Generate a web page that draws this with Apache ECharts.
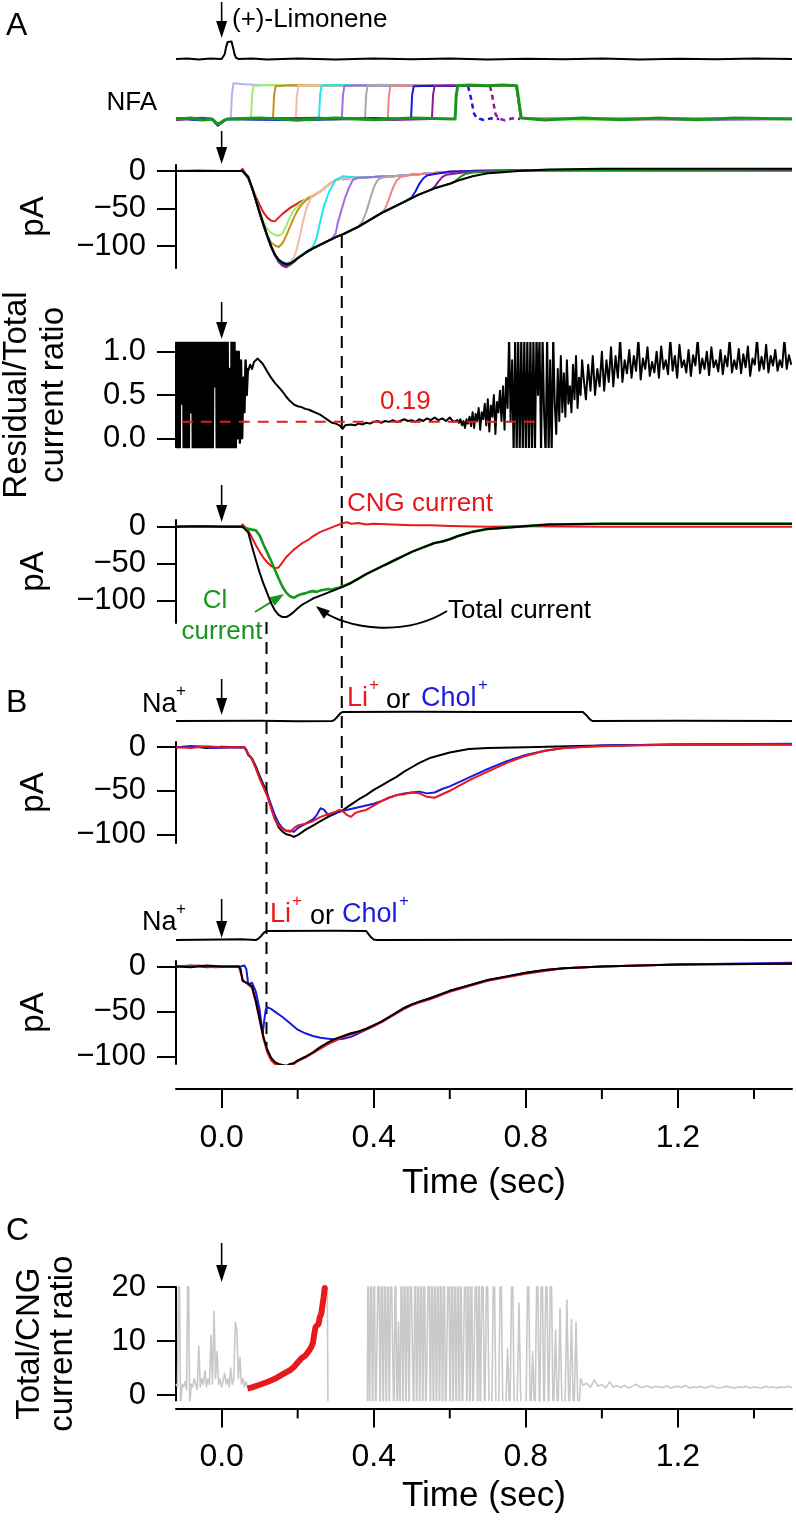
<!DOCTYPE html>
<html><head><meta charset="utf-8">
<script src="https://cdn.jsdelivr.net/npm/echarts@6/dist/echarts.min.js"></script>
<style>html,body{margin:0;padding:0;background:#fff}#c{width:796px;height:1523px}</style>
</head><body><div id="c"></div><script>
// ---------------- DATA (time in s) ----------------
const timeMajor = [0, 0.4, 0.8, 1.2];
const timeMinor = [0.2, 0.6, 1.0, 1.4];
const pATicks = [-100, -50, 0];
const ratioTicks = [0, 0.5, 1.0];
const cTicks = [0, 10, 20];

// A: (+)-limonene stimulus monitor
const limonenePulse = [[-0.12,0],[-0.09,0.03],[-0.06,-0.02],[-0.03,0.02],[0,0],[0.004,0.04],[0.008,0.25],[0.012,0.65],[0.016,0.9],[0.021,1.0],[0.026,0.92],[0.03,0.6],[0.034,0.25],[0.038,0.06],[0.045,0],[0.08,0.03],[0.12,-0.02],[0.2,0.02],[0.3,-0.02],[0.4,0.02],[0.5,-0.01],[0.6,0.02],[0.7,-0.02],[0.8,0.01],[0.9,-0.01],[1.0,0.02],[1.1,-0.02],[1.2,0.01],[1.3,-0.01],[1.4,0.02],[1.5,0]];

// A: NFA application monitors
const nfaLavender = [[-0.12,0],[-0.06,0.04],[-0.025,0],[-0.01,-0.18],[0.005,-0.06],[0.014,0],[0.024,0.02],[0.027,0.7],[0.031,1.05],[0.06,1.02],[0.1,1.0],[0.2,0.99],[0.4,0.98],[0.6,0.98],[0.775,0.97],[0.781,0.5],[0.787,0.03],[0.9,0],[1.2,0.03],[1.5,0]];
const nfaLightgreen = [[-0.12,0.03],[-0.07,-0.03],[-0.025,0],[-0.01,-0.17],[0.005,-0.05],[0.014,0],[0.04,0.03],[0.077,0],[0.08,0.7],[0.084,0.97],[0.12,1.0],[0.2,0.99],[0.4,0.98],[0.6,0.98],[0.775,0.97],[0.781,0.5],[0.787,0.03],[0.95,-0.03],[1.5,0]];
const nfaGoldenrod = [[-0.12,-0.03],[-0.05,0.03],[-0.025,0],[-0.01,-0.18],[0.005,-0.06],[0.014,0],[0.1,-0.03],[0.135,0],[0.138,0.7],[0.142,0.96],[0.18,0.99],[0.3,0.98],[0.6,0.98],[0.775,0.97],[0.781,0.5],[0.787,0.03],[1.0,0.03],[1.5,0]];
const nfaPink = [[-0.12,0],[-0.08,0.03],[-0.025,0],[-0.01,-0.16],[0.005,-0.05],[0.014,0],[0.15,0.03],[0.195,0],[0.198,0.7],[0.202,0.98],[0.25,0.99],[0.4,0.98],[0.6,0.98],[0.775,0.97],[0.781,0.5],[0.787,0.03],[1.1,-0.03],[1.5,0]];
const nfaCyan = [[-0.12,0.02],[-0.04,-0.03],[-0.025,0],[-0.01,-0.18],[0.005,-0.06],[0.014,0],[0.2,-0.03],[0.256,0],[0.259,0.7],[0.263,0.99],[0.3,1.0],[0.5,0.98],[0.775,0.97],[0.781,0.5],[0.787,0.03],[1.2,0.03],[1.5,0]];
const nfaMpurple = [[-0.12,0],[-0.06,-0.03],[-0.025,0],[-0.01,-0.17],[0.005,-0.05],[0.014,0],[0.25,0.03],[0.316,0],[0.319,0.7],[0.323,0.98],[0.36,0.99],[0.5,0.98],[0.775,0.97],[0.781,0.5],[0.787,0.03],[1.3,-0.03],[1.5,0]];
const nfaGray = [[-0.12,-0.02],[-0.05,0.03],[-0.025,0],[-0.01,-0.18],[0.005,-0.06],[0.014,0],[0.3,-0.03],[0.377,0],[0.38,0.7],[0.384,0.99],[0.42,1.01],[0.6,0.98],[0.775,0.97],[0.781,0.5],[0.787,0.03],[1.0,0],[1.5,0.02]];
const nfaSalmon = [[-0.12,0],[-0.07,0.03],[-0.025,0],[-0.01,-0.16],[0.005,-0.05],[0.014,0],[0.35,0.03],[0.437,0],[0.44,0.7],[0.444,0.97],[0.48,0.98],[0.6,0.98],[0.775,0.97],[0.781,0.5],[0.787,0.03],[1.1,0.02],[1.5,0]];
const nfaBlue = [[-0.12,0.03],[-0.06,-0.04],[-0.025,0],[-0.01,-0.2],[0.005,-0.07],[0.014,0],[0.2,-0.04],[0.4,0.03],[0.498,0],[0.501,0.7],[0.505,0.96],[0.55,0.98],[0.6,0.97],[0.648,0.97]];
const nfaBlueOff = [[0.648,0.97],[0.656,0.6],[0.664,0.15],[0.672,0.02],[0.69,-0.03],[0.71,0.02],[0.73,0]];
const nfaPurple = [[-0.12,-0.03],[-0.05,0.04],[-0.025,0],[-0.01,-0.18],[0.005,-0.06],[0.014,0],[0.25,0.04],[0.45,-0.03],[0.553,0],[0.556,0.7],[0.56,0.97],[0.6,0.99],[0.65,0.97],[0.706,0.97]];
const nfaPurpleOff = [[0.706,0.97],[0.713,0.6],[0.72,0.15],[0.727,0.02],[0.745,-0.04],[0.765,0.02],[0.785,0]];
const nfaGreen = [[-0.12,0],[-0.08,0.03],[-0.05,-0.03],[-0.025,0],[-0.01,-0.16],[0.005,-0.05],[0.014,0],[0.1,0.03],[0.2,-0.03],[0.3,0.03],[0.4,-0.02],[0.5,0.03],[0.614,0],[0.617,0.7],[0.621,0.98],[0.65,1.0],[0.7,0.98],[0.74,1.0],[0.776,0.98],[0.782,0.5],[0.788,0.03],[0.85,-0.03],[0.95,0.03],[1.05,-0.02],[1.15,0.03],[1.25,-0.02],[1.35,0.03],[1.5,0]];

// A: currents (pA) with NFA applied at different delays
const curRed = [[-0.12,0],[-0.06,0.5],[0,0],[0.05,0],[0.055,3],[0.06,-1],[0.07,-10],[0.08,-22],[0.09,-34],[0.1,-45],[0.11,-55],[0.12,-62],[0.13,-66],[0.135,-68],[0.14,-67],[0.15,-62],[0.16,-57],[0.17,-53],[0.18,-49],[0.19,-46],[0.2,-43],[0.21,-40],[0.22,-38],[0.23,-35],[0.24,-33],[0.25,-30],[0.26,-27],[0.27,-23],[0.28,-19],[0.29,-15],[0.3,-12],[0.31,-10],[0.32,-11],[0.34,-9],[0.36,-9],[0.38,-8],[0.4,-8],[0.42,-7],[0.45,-7],[0.48,-6],[0.5,-5],[0.55,-3],[0.6,-1],[0.65,0],[0.8,1],[1.0,1],[1.5,1]];
const curLightgreen = [[-0.12,0],[0.055,0],[0.06,-1],[0.07,-9],[0.08,-23],[0.09,-38],[0.1,-54],[0.11,-67],[0.12,-77],[0.13,-82],[0.14,-85],[0.15,-86],[0.16,-83],[0.17,-73],[0.18,-61],[0.19,-52],[0.2,-46],[0.21,-42],[0.22,-38],[0.24,-33],[0.26,-27],[0.28,-19],[0.3,-12],[0.32,-10],[0.36,-9],[0.4,-8],[0.45,-7],[0.5,-5],[0.55,-3],[0.6,-1],[0.65,0],[0.8,1],[1.5,1]];
const curGoldenrod = [[-0.12,0],[0.055,0],[0.06,-1],[0.07,-9],[0.08,-23],[0.09,-39],[0.1,-56],[0.11,-71],[0.12,-85],[0.13,-95],[0.14,-99],[0.15,-101],[0.16,-96],[0.17,-86],[0.18,-74],[0.19,-62],[0.2,-52],[0.21,-45],[0.22,-40],[0.23,-36],[0.24,-33],[0.26,-27],[0.28,-19],[0.3,-12],[0.32,-10],[0.36,-9],[0.4,-8],[0.45,-7],[0.5,-5],[0.55,-3],[0.6,-1],[0.65,0],[0.8,1],[1.5,1]];
const curPink = [[-0.12,0],[0.055,0],[0.06,-1],[0.07,-8],[0.08,-22],[0.09,-38],[0.1,-55],[0.11,-71],[0.12,-86],[0.13,-100],[0.14,-111],[0.15,-118],[0.16,-121],[0.17,-122],[0.18,-121],[0.19,-115],[0.197,-105],[0.205,-88],[0.215,-65],[0.225,-47],[0.237,-33],[0.25,-30],[0.26,-27],[0.28,-19],[0.3,-12],[0.32,-10],[0.36,-9],[0.4,-8],[0.45,-7],[0.5,-5],[0.55,-3],[0.6,-1],[0.65,0],[0.8,1],[1.5,1]];
const curCyan = [[-0.12,0],[0.055,0],[0.06,-1],[0.07,-8],[0.08,-22],[0.09,-38],[0.1,-55],[0.11,-71],[0.12,-86],[0.13,-100],[0.14,-111],[0.15,-118],[0.16,-122],[0.17,-123],[0.18,-122],[0.19,-119],[0.2,-115],[0.22,-108],[0.24,-101],[0.25,-89],[0.258,-70],[0.27,-45],[0.284,-26],[0.3,-12],[0.318,-7],[0.34,-8],[0.36,-9],[0.4,-8],[0.45,-7],[0.5,-5],[0.55,-3],[0.6,-1],[0.65,0],[0.8,1],[1.5,1]];
const curMpurple = [[-0.12,0],[0.055,0],[0.06,-1],[0.07,-8],[0.08,-22],[0.09,-38],[0.1,-55],[0.11,-71],[0.12,-86],[0.13,-100],[0.14,-111],[0.15,-119],[0.16,-124],[0.17,-126],[0.18,-124],[0.19,-121],[0.2,-116],[0.22,-109],[0.24,-103],[0.26,-98],[0.28,-93],[0.29,-90],[0.3,-83],[0.305,-70],[0.315,-52],[0.325,-35],[0.335,-22],[0.345,-12],[0.36,-9],[0.4,-8],[0.45,-7],[0.5,-5],[0.55,-3],[0.6,-1],[0.65,0],[0.8,1],[1.5,1]];
const curGray = [[-0.12,0],[0.055,0],[0.06,-1],[0.07,-8],[0.08,-22],[0.09,-38],[0.1,-55],[0.11,-71],[0.12,-86],[0.13,-100],[0.14,-111],[0.15,-118],[0.16,-122],[0.17,-124],[0.18,-123],[0.19,-120],[0.2,-116],[0.22,-109],[0.24,-103],[0.26,-98],[0.28,-93],[0.3,-88],[0.32,-84],[0.34,-79],[0.36,-74],[0.37,-67],[0.38,-55],[0.39,-38],[0.4,-22],[0.41,-12],[0.42,-9],[0.45,-7],[0.5,-5],[0.55,-3],[0.6,-1],[0.65,0],[0.8,1],[1.5,1]];
const curSalmon = [[-0.12,0],[0.055,0],[0.06,-1],[0.07,-8],[0.08,-22],[0.09,-38],[0.1,-55],[0.11,-71],[0.12,-86],[0.13,-100],[0.14,-111],[0.15,-118],[0.16,-122],[0.17,-124],[0.18,-123],[0.19,-120],[0.2,-116],[0.22,-109],[0.24,-103],[0.26,-98],[0.28,-93],[0.3,-88],[0.32,-84],[0.34,-79],[0.36,-74],[0.38,-68],[0.4,-62],[0.42,-56],[0.43,-50],[0.44,-37],[0.45,-23],[0.46,-13],[0.47,-8],[0.5,-5],[0.55,-3],[0.6,-1],[0.65,0],[0.8,1],[1.5,1]];
const curBlue = [[-0.12,0],[0.055,0],[0.06,-2],[0.07,-9],[0.08,-23],[0.09,-39],[0.1,-56],[0.11,-72],[0.12,-87],[0.13,-101],[0.14,-112],[0.15,-120],[0.16,-125],[0.17,-126],[0.18,-124],[0.19,-120],[0.2,-116],[0.22,-109],[0.24,-103],[0.26,-98],[0.28,-93],[0.3,-88],[0.32,-84],[0.34,-79],[0.36,-74],[0.38,-68],[0.4,-62],[0.42,-56],[0.44,-51],[0.46,-46],[0.48,-41],[0.49,-38],[0.5,-35],[0.51,-27],[0.52,-17],[0.53,-10],[0.54,-6],[0.56,-4],[0.6,-1],[0.65,0],[0.8,1],[1.5,1]];
const curPurple = [[-0.12,0],[0.055,0],[0.06,-2],[0.07,-9],[0.08,-23],[0.09,-39],[0.1,-56],[0.11,-72],[0.12,-87],[0.13,-101],[0.14,-112],[0.15,-121],[0.16,-126],[0.17,-128],[0.18,-125],[0.19,-121],[0.2,-116],[0.22,-109],[0.24,-103],[0.26,-98],[0.28,-93],[0.3,-88],[0.32,-84],[0.34,-79],[0.36,-74],[0.38,-68],[0.4,-62],[0.42,-56],[0.44,-51],[0.46,-46],[0.48,-41],[0.5,-36],[0.52,-31],[0.54,-27],[0.55,-25],[0.56,-21],[0.57,-14],[0.58,-8],[0.59,-5],[0.62,-3],[0.65,-1],[0.8,1],[1.5,1]];
const curGreen = [[-0.12,0],[0.055,0],[0.06,-1],[0.07,-8],[0.08,-22],[0.09,-38],[0.1,-55],[0.11,-71],[0.12,-86],[0.13,-100],[0.14,-111],[0.15,-118],[0.16,-122],[0.17,-124],[0.18,-123],[0.19,-120],[0.2,-116],[0.22,-109],[0.24,-103],[0.26,-98],[0.28,-93],[0.3,-88],[0.32,-84],[0.34,-79],[0.36,-74],[0.38,-68],[0.4,-62],[0.42,-56],[0.44,-51],[0.46,-46],[0.48,-41],[0.5,-36],[0.52,-31],[0.54,-27],[0.56,-23],[0.58,-20],[0.6,-17],[0.61,-15],[0.62,-11],[0.63,-7],[0.64,-4],[0.66,-2],[0.7,-1],[0.8,1],[1.5,2]];
const curTotal = [[-0.12,0],[-0.06,0.5],[0,0],[0.055,0],[0.06,-1],[0.07,-8],[0.08,-22],[0.09,-38],[0.1,-55],[0.11,-71],[0.12,-86],[0.13,-100],[0.14,-111],[0.15,-118],[0.16,-122],[0.17,-124],[0.18,-123],[0.19,-120],[0.2,-116],[0.22,-109],[0.24,-103],[0.26,-98],[0.28,-93],[0.3,-88],[0.32,-84],[0.34,-79],[0.36,-74],[0.38,-68],[0.4,-62],[0.42,-56],[0.44,-51],[0.46,-46],[0.48,-41],[0.5,-36],[0.52,-31],[0.54,-27],[0.56,-23],[0.58,-20],[0.6,-17],[0.62,-13],[0.64,-10],[0.66,-7],[0.68,-5],[0.7,-3],[0.73,-2],[0.78,0],[0.86,2],[1.0,3],[1.2,3],[1.5,3]];

// A: residual/total current ratio (sampled pieces)
const ratioNoiseStart = -0.12, ratioNoiseStep = 0.003;
const ratioNoiseEarly = [2,-1,2,-1,2,0.4,2,-1,2,-1,2,-1,2,0.3,2,-1,2,-1,2,-1,2,-1,2,-1,0.5,2,-1,2,-1,2,-1,2,-1,2,0.6,2,-1,2,-1,2,-1,2,-1,2,-1,2,-1,0.8,-1,2,-1,2,-1,1.0,0.0,1.0,-0.05,0.9,0.0,0.7,0.3,0.9,0.5,0.8];
const ratioSmooth = [[0.07,0.78],[0.075,0.85],[0.08,0.8],[0.085,0.88],[0.09,0.86],[0.095,0.92],[0.1,0.9],[0.108,0.86],[0.12,0.77],[0.13,0.7],[0.14,0.64],[0.15,0.59],[0.16,0.54],[0.17,0.48],[0.18,0.43],[0.19,0.39],[0.2,0.37],[0.21,0.36],[0.22,0.34],[0.23,0.33],[0.24,0.31],[0.25,0.29],[0.26,0.27],[0.27,0.24],[0.28,0.21],[0.29,0.18],[0.3,0.17],[0.31,0.15],[0.318,0.11],[0.325,0.15],[0.33,0.14],[0.34,0.16],[0.35,0.15],[0.36,0.17],[0.37,0.16],[0.38,0.18],[0.39,0.17],[0.4,0.19],[0.41,0.2],[0.42,0.18],[0.43,0.2],[0.44,0.19],[0.45,0.21],[0.46,0.19],[0.47,0.2],[0.48,0.22],[0.49,0.2],[0.5,0.21],[0.51,0.19],[0.52,0.22],[0.53,0.2],[0.54,0.23],[0.55,0.21],[0.56,0.24],[0.57,0.21],[0.58,0.23],[0.59,0.2],[0.6,0.24],[0.61,0.19]];
const ratioNoiseLateStart = 0.62, ratioNoiseLateStep = 0.004;
const ratioNoiseLate = [0.21,0.18,0.22,0.15,0.2,0.12,0.22,0.17,0.25,0.14, 0.3,0.12,0.28,0.2,0.35,0.1,0.3,0.22,0.4,0.15, 0.45,0.08,0.38,0.25,0.5,0.05,0.42,0.3,0.55,0.2, 0.6,0.1,0.7,0.35,1.2,0.2,0.9,-0.2,1.2,-0.2, 1.2,-0.2,1.2,-0.2,1.2,-0.2,1.2,-0.2,1.2,-0.2, 1.2,-0.2,1.2,0.5,1.2,-0.2,1.2,0.3,-0.2,1.2, -0.2,0.9,-0.2,1.2,0.4,0.05,0.8,0.2,0.95,0.3, 0.75,0.25,0.9,0.4,0.6,0.3,0.85,0.45,0.95,0.35, 0.7,0.5,0.9];
const ratioTailStart = 0.952, ratioTailStep = 0.006;
const ratioTail = [0.7,0.45,0.85,0.55,0.95,0.5,0.8,0.6,1.0,0.55, 0.9,0.65,1.05,0.6,0.95,0.7,1.15,0.65,0.9,0.75, 1.02,0.7,0.95,0.78,1.15,0.68,0.92,0.8,1.05,0.72, 0.88,0.76,1.0,0.7,1.06,0.8,0.9,0.74,1.15,0.78, 0.95,0.7,1.08,0.82,0.9,0.76,1.02,0.72,0.96,0.84, 1.15,0.75,0.92,0.8,1.0,0.73,1.05,0.82,0.9,0.77, 1.02,0.74,0.95,0.83,1.15,0.76,0.9,0.8,1.03,0.75, 0.97,0.82,1.06,0.72,0.92,0.85,1.15,0.78,0.94,0.8, 1.08,0.76,0.95,0.84,1.02,0.78,0.9,0.82,1.15,0.8, 0.96,0.85];
const ratioLevel = [[-0.105,0.19],[0.83,0.19]];

// A: CNG, Cl and total currents (pA)
const cngCurrent = [[-0.12,0],[-0.06,0.5],[0,0],[0.05,0],[0.055,3],[0.06,1],[0.07,-5],[0.08,-15],[0.09,-25],[0.1,-34],[0.11,-42],[0.12,-48],[0.13,-53],[0.14,-56],[0.145,-57],[0.15,-55],[0.16,-48],[0.17,-41],[0.18,-36],[0.19,-31],[0.2,-27],[0.21,-23],[0.22,-20],[0.23,-17],[0.24,-13],[0.25,-10],[0.26,-7],[0.27,-5],[0.28,-3],[0.29,-1],[0.3,1],[0.31,3],[0.32,5],[0.33,6],[0.34,4],[0.36,5],[0.38,3],[0.4,4],[0.45,3],[0.5,2],[0.55,2],[0.6,1],[0.7,0],[0.8,0.5],[1.0,0],[1.5,0]];
const clCurrent = [[-0.12,0],[-0.06,0.5],[0,0],[0.05,0],[0.06,-1],[0.07,-3],[0.08,-4],[0.09,-5],[0.1,-12],[0.11,-24],[0.12,-35],[0.13,-46],[0.14,-58],[0.15,-70],[0.16,-81],[0.17,-89],[0.18,-94],[0.19,-96],[0.2,-93],[0.21,-91],[0.22,-90],[0.23,-88],[0.24,-87],[0.25,-88],[0.26,-86],[0.27,-85],[0.28,-84],[0.29,-85],[0.3,-83],[0.31,-82],[0.32,-80],[0.33,-78],[0.34,-76],[0.36,-70],[0.38,-64],[0.4,-59],[0.42,-54],[0.44,-49],[0.46,-44],[0.48,-39],[0.5,-34],[0.52,-30],[0.54,-26],[0.56,-22],[0.58,-20],[0.6,-17],[0.62,-13],[0.64,-10],[0.66,-7],[0.68,-5],[0.7,-3],[0.73,-2],[0.78,0],[0.86,3],[1.0,4],[1.2,4],[1.5,4]];
const totalCurrent = [[-0.12,0],[-0.06,0.5],[0,0],[0.055,0],[0.06,-1],[0.07,-8],[0.08,-27],[0.09,-45],[0.1,-62],[0.11,-77],[0.12,-90],[0.13,-103],[0.14,-113],[0.15,-119],[0.16,-122],[0.17,-122],[0.18,-119],[0.19,-115],[0.2,-110],[0.21,-106],[0.22,-103],[0.24,-97],[0.26,-93],[0.28,-89],[0.3,-85],[0.32,-81],[0.34,-76],[0.36,-70],[0.38,-64],[0.4,-59],[0.42,-54],[0.44,-49],[0.46,-44],[0.48,-39],[0.5,-34],[0.52,-30],[0.54,-26],[0.56,-22],[0.58,-20],[0.6,-17],[0.62,-13],[0.64,-10],[0.66,-7],[0.68,-5],[0.7,-3],[0.73,-2],[0.78,0],[0.86,3],[1.0,4],[1.2,4],[1.5,4]];

// B: solution exchange monitors
const naStimLate = [[-0.12,0],[0.1,0.03],[0.2,-0.02],[0.29,0],[0.296,0.1],[0.305,0.5],[0.312,0.85],[0.318,1],[0.5,1.02],[0.7,1],[0.95,1],[0.96,0.6],[0.968,0.2],[0.975,0],[1.2,0.02],[1.5,0]];
const naStimEarly = [[-0.12,0],[0.0,0.05],[0.05,0.08],[0.09,0],[0.097,0.15],[0.105,0.5],[0.112,0.85],[0.118,1],[0.3,1.02],[0.38,1],[0.385,0.8],[0.393,0.3],[0.4,0.05],[0.408,0],[0.8,0.02],[1.5,0]];

// B (top): currents, ion substitution from 0.3 s
const bLateNa = [[-0.12,0],[-0.08,1],[-0.04,-1],[0,0.5],[0.04,0],[0.06,0],[0.065,-4],[0.07,-9],[0.08,-13],[0.09,-22],[0.1,-33],[0.11,-43],[0.12,-53],[0.13,-68],[0.14,-82],[0.15,-92],[0.16,-97],[0.17,-100],[0.18,-101],[0.19,-103],[0.195,-104],[0.2,-101],[0.21,-98],[0.22,-95],[0.24,-90],[0.26,-85],[0.28,-80],[0.3,-76],[0.32,-72],[0.34,-66],[0.36,-60],[0.38,-55],[0.4,-49],[0.42,-44],[0.44,-39],[0.46,-34],[0.48,-28],[0.5,-23],[0.52,-18],[0.55,-12],[0.6,-6],[0.65,-2],[0.7,-1],[0.8,0],[1.0,2],[1.2,3],[1.5,3]];
const bLateLi = [[-0.12,0],[-0.08,-1],[-0.04,1],[0,0],[0.06,0],[0.065,-3],[0.07,-8],[0.08,-14],[0.09,-24],[0.1,-36],[0.11,-46],[0.12,-56],[0.13,-70],[0.14,-83],[0.15,-90],[0.16,-94],[0.17,-96],[0.18,-97],[0.19,-93],[0.2,-90],[0.22,-88],[0.24,-85],[0.26,-80],[0.28,-77],[0.3,-74],[0.31,-72],[0.32,-74],[0.33,-78],[0.34,-80],[0.35,-76],[0.36,-74],[0.38,-72],[0.4,-67],[0.42,-62],[0.44,-58],[0.46,-55],[0.48,-54],[0.5,-52],[0.52,-53],[0.54,-57],[0.56,-58],[0.58,-54],[0.6,-50],[0.63,-43],[0.66,-36],[0.7,-28],[0.75,-18],[0.8,-10],[0.85,-4],[0.9,-1],[1.0,1],[1.2,3],[1.5,3]];
const bLateChol = [[-0.12,0],[-0.06,1],[-0.02,-1],[0.06,0],[0.065,-3],[0.07,-8],[0.08,-14],[0.09,-24],[0.1,-35],[0.11,-45],[0.12,-55],[0.13,-66],[0.14,-78],[0.15,-87],[0.16,-93],[0.17,-96],[0.18,-96],[0.19,-97],[0.2,-93],[0.22,-88],[0.24,-83],[0.25,-78],[0.26,-70],[0.27,-72],[0.28,-78],[0.3,-75],[0.32,-73],[0.34,-71],[0.36,-69],[0.38,-67],[0.4,-65],[0.42,-62],[0.44,-58],[0.46,-55],[0.48,-53],[0.5,-52],[0.52,-51],[0.54,-53],[0.56,-52],[0.58,-48],[0.6,-45],[0.63,-39],[0.66,-33],[0.7,-25],[0.75,-16],[0.8,-9],[0.85,-4],[0.9,-1],[1.0,2],[1.2,3],[1.5,4]];

// B (bottom): currents, ion substitution from 0.1 s
const bEarlyNa = [[-0.12,0],[-0.08,-1],[-0.04,1],[0,0],[0.045,0],[0.05,-3],[0.055,-16],[0.06,-17],[0.07,-19],[0.08,-22],[0.09,-38],[0.1,-58],[0.11,-78],[0.12,-92],[0.13,-101],[0.14,-106],[0.15,-108],[0.16,-109],[0.17,-110],[0.18,-108],[0.19,-107],[0.2,-104],[0.22,-100],[0.24,-95],[0.26,-89],[0.28,-84],[0.3,-80],[0.32,-77],[0.34,-74],[0.36,-72],[0.38,-69],[0.4,-65],[0.42,-61],[0.44,-56],[0.46,-51],[0.48,-46],[0.5,-42],[0.52,-39],[0.55,-35],[0.6,-27],[0.65,-21],[0.7,-15],[0.75,-11],[0.8,-7],[0.85,-4],[0.9,-2],[1.0,0],[1.2,2],[1.5,3]];
const bEarlyLi = [[-0.12,0],[-0.06,1],[-0.02,-1],[0.045,0],[0.05,-2],[0.055,-14],[0.06,-17],[0.07,-20],[0.08,-24],[0.09,-40],[0.1,-60],[0.11,-80],[0.12,-95],[0.13,-104],[0.14,-108],[0.15,-110],[0.16,-111],[0.17,-112],[0.18,-110],[0.19,-108],[0.2,-105],[0.22,-101],[0.24,-96],[0.26,-91],[0.28,-86],[0.3,-82],[0.32,-78],[0.34,-75],[0.36,-73],[0.38,-70],[0.4,-66],[0.42,-62],[0.44,-57],[0.46,-52],[0.48,-47],[0.5,-43],[0.52,-40],[0.55,-36],[0.6,-28],[0.65,-22],[0.7,-16],[0.75,-12],[0.8,-8],[0.85,-5],[0.9,-2],[1.0,0],[1.2,2],[1.5,3]];
const bEarlyChol = [[-0.12,0],[-0.08,1],[-0.04,-1],[0,0],[0.05,0],[0.055,2],[0.06,1],[0.065,-3],[0.07,-20],[0.075,-22],[0.08,-18],[0.085,-20],[0.09,-28],[0.1,-48],[0.105,-65],[0.108,-74],[0.112,-60],[0.116,-48],[0.12,-45],[0.13,-47],[0.14,-50],[0.16,-56],[0.18,-63],[0.2,-70],[0.22,-74],[0.24,-77],[0.26,-79],[0.28,-80],[0.3,-81],[0.32,-80],[0.34,-78],[0.36,-74],[0.38,-70],[0.4,-66],[0.42,-61],[0.44,-56],[0.46,-51],[0.48,-46],[0.5,-42],[0.52,-39],[0.55,-35],[0.6,-27],[0.65,-21],[0.7,-15],[0.75,-11],[0.8,-7],[0.85,-4],[0.9,-2],[1.0,0],[1.2,2],[1.5,4]];

// C: total/CNG current ratio
const cEarlyStart = -0.12, cEarlyStep = 0.004;
const cEarly = [2,1.5,30,-3,2,1.5,2.5,1,30,-2,2,1.5,3,2,1,9,1.5,3,2,4.5,1.5,3,2,11,2,15.5,3,8,2,3,1.5,2.5,4,2,3,1.5,5,2,3,13.5,12,3,7,2,3,1.5,2.5,1.5,1.2];
const cMid = [[0.075,null],[0.274,19.5],[0.277,30],[0.28,-6],[0.383,-6]];
const cDenseStart = 0.385, cDenseStep = 0.004;
const cDense = [30,-6,30,-6,30,-6,-6,30,-6,30,-6,30,-6,30,-6,30, 30,-6,30,-6,13.5,-6,30,-6,30,-6,30,-6,30,30,-6,30, -6,30,-6,30,-6,30,-6,-6,30,-6,30,-6,30,-6,30,-6, 30,-6,30,-6,-6,30,-6,30,-6,30,-6,30,-6,30,-6,-6, 30,-6,30,-6,30,-6,-6,30,-6,30];
const cSparseStart = 0.68, cSparseStep = 0.006;
const cSparse = [-6,30,-6,30,-6,-6,30,-6,-6,30, -6,-6,8.7,-6,30,-6,-6,17,-6,-6, -6,30,-6,8,-6,30,-6,30,-6,30, -6,30,-6,12,-6,16,-6,-6,17.6,-6, 14,-6,13.5,-6,3,1.8];
const cTailStart = 0.96, cTailStep = 0.01;
const cTail = [2.2,1.4,2.8,1.6,1.9,1.3,2.4,1.5,1.7,1.4, 1.8,1.3,1.6,2.0,1.4,1.5,1.7,1.3,1.6,1.5, 1.4,1.7,1.3,1.5,1.6,1.4,1.8,1.3,1.5,1.4, 1.6,1.3,1.5,1.7,1.4,1.3,1.5,1.6,1.4,1.3, 1.5,1.4,1.6,1.3,1.5,1.4,1.3,1.6,1.4,1.5, 1.3,1.5,1.4,1.6,1.4];
const cPhase = [[0.068,1.2],[0.08,1.4],[0.1,1.9],[0.12,2.4],[0.14,3.0],[0.16,3.8],[0.18,4.6],[0.19,5.2],[0.2,6.0],[0.21,6.8],[0.22,7.3],[0.225,7.6],[0.23,8.2],[0.235,8.8],[0.24,9.6],[0.243,11],[0.247,12.6],[0.25,12.3],[0.255,13.2],[0.258,14.4],[0.262,15],[0.265,16.5],[0.268,18],[0.271,19.8],[0.272,19.5]];

// ---------------- CHART ----------------
const FONT = '"Liberation Sans", Arial, Helvetica, sans-serif';
const X_MIN = -0.12, X_MAX = 1.5;
const sampled = (t0, dt, vals) => vals.map((v, i) => [+(t0 + i * dt).toFixed(4), v]);
const minusFmt = v => (v < 0 ? '\u2212' + Math.abs(v) : String(v));

const grids = [
  {top: 30.5, height: 38},
  {top: 68, height: 68},
  {top: 165, height: 103},
  {top: 343, height: 104},
  {top: 520, height: 103},
  {top: 703, height: 27},
  {top: 742, height: 101},
  {top: 922, height: 27},
  {top: 961, height: 103},
  {top: 1287, height: 113.4}
].map(g => Object.assign({left: 176, right: 4, containLabel: false, outerBoundsMode: 'none'}, g));

const yRanges = [[-0.5,1.5],[-0.5,1.5],[-129,8],[-0.1,1.1],[-130,9],[-1,2],[-110,6],[-1,2],[-108,6],[-1,20]];
const timeAxisOffsets = {8: 25, 9: 8};
const timeNameGaps = {8: 77, 9: 70};

const xAxes = grids.map((g, i) => ({type: 'value', gridIndex: i, min: X_MIN, max: X_MAX, show: false, splitLine: {show: false}}));
function timeAxis(i) {
  return {type: 'value', gridIndex: i, min: X_MIN, max: X_MAX, position: 'bottom', offset: timeAxisOffsets[i],
    axisLine: {show: true, onZero: false, lineStyle: {color: '#000', width: 2}},
    axisTick: {show: true, customValues: timeMajor, length: 19, lineStyle: {color: '#000', width: 2}},
    axisLabel: {show: true, customValues: timeMajor, formatter: v => v.toFixed(1), fontSize: 32, color: '#000', fontFamily: FONT, margin: 33},
    splitLine: {show: false},
    name: 'Time (sec)', nameLocation: 'middle', nameGap: timeNameGaps[i],
    nameTextStyle: {fontSize: 35, color: '#000', fontFamily: FONT}};
}
xAxes[8] = timeAxis(8);
xAxes[9] = timeAxis(9);

const yAxes = yRanges.map((r, i) => ({type: 'value', gridIndex: i, min: r[0], max: r[1], show: false, splitLine: {show: false}}));
function valueAxis(i, ticks, fmt, name, gap, lh) {
  const r = yRanges[i];
  return {type: 'value', gridIndex: i, min: r[0], max: r[1], position: 'left',
    axisLine: {show: true, onZero: false, lineStyle: {color: '#000', width: 2}},
    axisTick: {show: true, customValues: ticks, length: 19, lineStyle: {color: '#000', width: 2}},
    axisLabel: {show: true, customValues: ticks, formatter: fmt, fontSize: 31, color: '#000', fontFamily: FONT, margin: 30},
    splitLine: {show: false},
    name: name, nameLocation: 'middle', nameRotate: 90, nameGap: gap,
    nameTextStyle: {fontSize: 33, color: '#000', fontFamily: FONT, lineHeight: lh, align: 'center'}};
}
yAxes[2] = valueAxis(2, pATicks, minusFmt, 'pA', 124, 36);
yAxes[3] = valueAxis(3, ratioTicks, v => v.toFixed(1), 'Residual/Total\ncurrent ratio', 104, 37);
yAxes[4] = valueAxis(4, pATicks, minusFmt, 'pA', 124, 36);
yAxes[6] = valueAxis(6, pATicks, minusFmt, 'pA', 124, 36);
yAxes[8] = valueAxis(8, pATicks, minusFmt, 'pA', 124, 36);
yAxes[9] = valueAxis(9, cTicks, v => String(v), 'Total/CNG\ncurrent ratio', 97, 33);

function line(grid, data, color, width, extra) {
  return Object.assign({type: 'line', xAxisIndex: grid, yAxisIndex: grid, data: data, showSymbol: false, symbol: 'none',
    animation: false, silent: true, clip: true, connectNulls: false,
    lineStyle: {color: color, width: width, join: 'round'}}, extra || {});
}

const ratioEarlyData = sampled(ratioNoiseStart, ratioNoiseStep, ratioNoiseEarly).concat([ratioSmooth[0]]);
const ratioData = [].concat(ratioSmooth, sampled(ratioNoiseLateStart, ratioNoiseLateStep, ratioNoiseLate),
  sampled(ratioTailStart, ratioTailStep, ratioTail));
const cGrayData = [].concat(sampled(cEarlyStart, cEarlyStep, cEarly), cMid, sampled(cDenseStart, cDenseStep, cDense),
  sampled(cSparseStart, cSparseStep, cSparse), sampled(cTailStart, cTailStep, cTail));

const C = {red: '#e8191c', blue: '#1a1ae0', green: '#16961c', black: '#000'};
const series = [
  line(0, limonenePulse, '#000', 2),
  line(1, nfaLavender, '#b4b4f0', 2), line(1, nfaLightgreen, '#9cee6c', 2), line(1, nfaGoldenrod, '#c8901c', 2),
  line(1, nfaPink, '#f6b8b0', 2), line(1, nfaCyan, '#1ee6f0', 2), line(1, nfaMpurple, '#a070e0', 2),
  line(1, nfaGray, '#a8a8a8', 2), line(1, nfaSalmon, '#f08484', 2), line(1, nfaBlue, '#1818e0', 2),
  line(1, nfaBlueOff, '#1818e0', 2.5, {lineStyle: {color: '#1818e0', width: 2.5, type: [5, 4]}}),
  line(1, nfaPurple, '#901890', 2),
  line(1, nfaPurpleOff, '#901890', 2.5, {lineStyle: {color: '#901890', width: 2.5, type: [5, 4]}}),
  line(1, nfaGreen, '#16961c', 3),
  line(2, curRed, C.red, 2), line(2, curLightgreen, '#9cee6c', 2), line(2, curGoldenrod, '#c8901c', 2),
  line(2, curPink, '#f6b8b0', 2), line(2, curCyan, '#1ee6f0', 2), line(2, curMpurple, '#a070e0', 2),
  line(2, curGray, '#a8a8a8', 2), line(2, curSalmon, '#f08484', 2), line(2, curBlue, '#1818e0', 2),
  line(2, curPurple, '#901890', 2), line(2, curGreen, '#16961c', 2), line(2, curTotal, '#000', 2),
  line(3, ratioEarlyData, '#000', 2.4),
  line(3, ratioData, '#000', 2),
  line(3, ratioLevel, C.red, 2, {lineStyle: {color: C.red, width: 2, type: [11, 8]}}),
  line(4, cngCurrent, C.red, 2), line(4, clCurrent, C.green, 2.6), line(4, totalCurrent, '#000', 2),
  line(5, naStimLate, '#000', 2),
  line(6, bLateNa, '#000', 2), line(6, bLateChol, C.blue, 2), line(6, bLateLi, C.red, 2),
  line(7, naStimEarly, '#000', 2),
  line(8, bEarlyChol, C.blue, 2), line(8, bEarlyLi, C.red, 2), line(8, bEarlyNa, '#000', 2),
  line(9, cGrayData, '#c8c8c8', 1.6),
  line(9, cPhase, C.red, 6)
];

const chart = echarts.init(document.getElementById('c'), null, {renderer: 'canvas'});
chart.setOption({
  animation: false, backgroundColor: '#fff', textStyle: {fontFamily: FONT},
  grid: grids, xAxis: xAxes, yAxis: yAxes, series: series
});

// ---------------- ANNOTATIONS ----------------
const xAt = t => chart.convertToPixel({xAxisIndex: 0}, t);
const x0 = xAt(0), xEarly = xAt(0.118), xLate = xAt(0.316);
const g = [];
function txt(x, y, s, opt) {
  g.push({type: 'text', x: x, y: y, silent: true, style: Object.assign({text: s, fill: '#000', fontSize: 26, fontFamily: FONT,
    textAlign: 'left', textVerticalAlign: 'middle', verticalAlign: 'middle'}, opt || {})});
}
function arrowDown(x, y1, y2) {
  g.push({type: 'line', silent: true, shape: {x1: x, y1: y1, x2: x, y2: y2 - 8}, style: {stroke: '#000', lineWidth: 1.6}});
  g.push({type: 'polygon', silent: true, shape: {points: [[x - 5.5, y2 - 17], [x + 5.5, y2 - 17], [x, y2]]}, style: {fill: '#000'}});
}
function head(xe, ye, xf, yf, color) {
  const dx = xe - xf, dy = ye - yf, L = Math.hypot(dx, dy), ux = dx / L, uy = dy / L;
  const bx = xe - ux * 14, by = ye - uy * 14, px = -uy * 5, py = ux * 5;
  g.push({type: 'polygon', silent: true, shape: {points: [[xe, ye], [bx + px, by + py], [bx - px, by - py]]}, style: {fill: color}});
}
function vdash(x, y1, y2) {
  g.push({type: 'line', silent: true, shape: {x1: x, y1: y1, x2: x, y2: y2}, style: {stroke: '#000', lineWidth: 2, lineDash: [12, 8]}});
}
// minor time ticks on the two time axes
[8, 9].forEach(i => {
  const yLine = grids[i].top + grids[i].height + timeAxisOffsets[i];
  timeMinor.forEach(t => {
    const x = xAt(t);
    g.push({type: 'line', silent: true, shape: {x1: x, y1: yLine, x2: x, y2: yLine + 10}, style: {stroke: '#000', lineWidth: 2}});
  });
});
vdash(xLate, 236, 810);
vdash(xEarly, 622, 1046);
arrowDown(x0, 2, 38);
arrowDown(x0, 131, 164);
arrowDown(x0, 302, 339);
arrowDown(x0, 485, 522);
arrowDown(x0, 679, 715);
arrowDown(x0, 899, 938);
arrowDown(x0, 1243, 1282);

// Total current curved pointer
g.push({type: 'bezierCurve', silent: true, shape: {x1: 447, y1: 611, x2: 318, y2: 608, cpx1: 405, cpy1: 637, cpx2: 346, cpy2: 630},
  style: {stroke: '#000', lineWidth: 2, fill: 'none'}});
head(316, 606, 346, 630, '#000');
// Cl current pointer
g.push({type: 'line', silent: true, shape: {x1: 255, y1: 612, x2: 276, y2: 599}, style: {stroke: C.green, lineWidth: 2}});
head(284, 594, 255, 612, C.green);

txt(6, 26, 'A', {fontSize: 32});
txt(6, 703, 'B', {fontSize: 32});
txt(6, 1231, 'C', {fontSize: 32});
txt(232, 20, '(+)-Limonene');
txt(157, 103, 'NFA', {textAlign: 'right'});
txt(380, 402, '0.19', {fill: C.red});
txt(347, 504, 'CNG current', {fill: C.red});
txt(448, 611, 'Total current');
txt(215, 601, 'Cl', {fill: C.green, textAlign: 'center'});
txt(222, 632, 'current', {fill: C.green, textAlign: 'center'});
// B top
txt(142, 705, 'Na', {fontSize: 27});
txt(176, 691, '+', {fontSize: 17});
txt(347, 699, 'Li', {fill: C.red, fontSize: 27});
txt(369, 685, '+', {fill: C.red, fontSize: 17});
txt(386, 701, 'or', {fontSize: 27});
txt(421, 699, 'Chol', {fill: C.blue, fontSize: 27});
txt(478, 685, '+', {fill: C.blue, fontSize: 17});
// B bottom
txt(142, 923, 'Na', {fontSize: 27});
txt(176, 909, '+', {fontSize: 17});
txt(270, 915, 'Li', {fill: C.red, fontSize: 27});
txt(292, 901, '+', {fill: C.red, fontSize: 17});
txt(310, 917, 'or', {fontSize: 27});
txt(342, 915, 'Chol', {fill: C.blue, fontSize: 27});
txt(399, 901, '+', {fill: C.blue, fontSize: 17});

chart.setOption({graphic: {elements: g}});
</script></body></html>
